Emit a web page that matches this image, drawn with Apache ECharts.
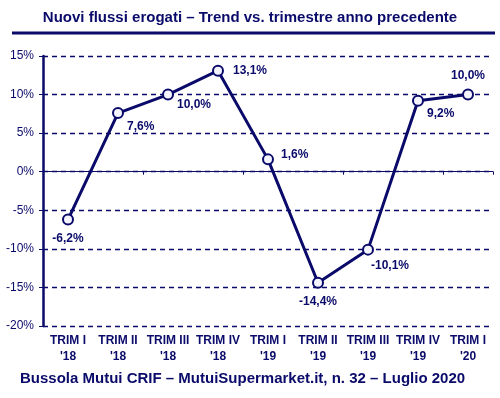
<!DOCTYPE html>
<html><head><meta charset="utf-8">
<script src="https://cdn.jsdelivr.net/npm/echarts@6/dist/echarts.min.js"></script>
<style>html,body{margin:0;padding:0;background:#fff}#c{width:500px;height:398px}</style>
</head><body><div id="c"></div>
<script>
const categories = ["TRIM I\n'18","TRIM II\n'18","TRIM III\n'18","TRIM IV\n'18","TRIM I\n'19","TRIM II\n'19","TRIM III\n'19","TRIM IV\n'19","TRIM I\n'20"];
const values = [-6.2, 7.6, 10.0, 13.1, 1.6, -14.4, -10.1, 9.2, 10.0];
const yTicks = [-20, -15, -10, -5, 0, 5, 10, 15];
const titleText = "Nuovi flussi erogati \u2013 Trend vs. trimestre anno precedente";
const footerText = "Bussola Mutui CRIF \u2013 MutuiSupermarket.it, n. 32 \u2013 Luglio 2020";

const C = '#0a0a6a';
const FONT = 'Liberation Sans, Arial, sans-serif';
const labelStyles = [
  {position:'bottom', offset:[0,2]},
  {position:'right', offset:[-2,14]},
  {position:'right', offset:[-2,10]},
  {position:'right', offset:[4,0]},
  {position:'right', offset:[2,-5]},
  {position:'bottom', offset:[0,2]},
  {position:'right', offset:[-8,16]},
  {position:'right', offset:[-2,13]},
  {position:'top', offset:[0,-2]}
];
const fmt = v => v.toFixed(1).replace('.', ',') + '%';
const chart = echarts.init(document.getElementById('c'), null, {renderer:'canvas'});
chart.setOption({
  animation:false,
  backgroundColor:'#fff',
  title:{text:titleText, left:'center', top:5, textStyle:{fontFamily:FONT, fontSize:15, fontWeight:'bold', color:C}},
  graphic:[
    {type:'line', shape:{x1:12,y1:33,x2:495,y2:33}, style:{stroke:C, lineWidth:3}},
    {type:'text', left:20, top:371, style:{text:footerText, font:'bold 15px '+FONT, fill:C}}
  ],
  grid:{left:43, right:7, top:56, bottom:72},
  xAxis:[{type:'category', data:categories, boundaryGap:true,
    axisLine:{onZero:true, lineStyle:{color:C, width:1}},
    axisTick:{show:true, length:3, inside:false, lineStyle:{color:C}},
    axisLabel:{show:false}, splitLine:{show:false}},
    {type:'category', data:categories, position:'bottom', offset:0,
    axisLine:{show:false}, axisTick:{show:false}, splitLine:{show:false},
    axisLabel:{show:true, interval:0, color:C, fontFamily:FONT, fontSize:12, fontWeight:'bold', lineHeight:16, margin:7}}],
  yAxis:[{type:'value', min:yTicks[0], max:yTicks[yTicks.length-1], interval:5,
    axisLine:{show:true, onZero:false, lineStyle:{color:C, width:2.5}},
    axisTick:{show:true, length:4, lineStyle:{color:C}},
    axisLabel:{formatter:v=>v+'%', color:C, fontFamily:FONT, fontSize:12, margin:9},
    splitLine:{show:true, lineStyle:{color:C, type:[5,4], width:1.3}}}],
  series:[{type:'line', xAxisIndex:0, data:values.map((v,i)=>({value:v, label:labelStyles[i]})),
    lineStyle:{color:C, width:3}, symbol:'circle', symbolSize:10,
    itemStyle:{color:'#f4f4ff', borderColor:C, borderWidth:2},
    label:{show:true, formatter:p=>fmt(p.value), color:C, fontFamily:FONT, fontSize:12, fontWeight:'bold'},
    z:5}]
});
</script></body></html>
